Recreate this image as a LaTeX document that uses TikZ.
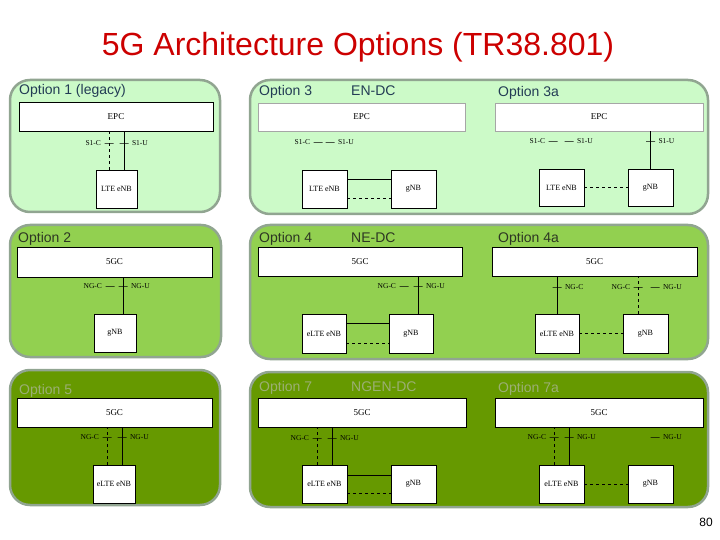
\documentclass[tikz,border=0pt]{standalone}
\usepackage{fontspec}
\setmainfont{Liberation Serif}
\setsansfont{Liberation Sans}
\usetikzlibrary{positioning}
\definecolor{rowone}{RGB}{204,250,200}
\definecolor{rowtwo}{RGB}{146,208,80}
\definecolor{rowthree}{RGB}{102,153,0}
\definecolor{panelrim}{RGB}{145,165,145}
\definecolor{titlered}{RGB}{204,0,0}
\definecolor{optone}{RGB}{35,60,85}
\definecolor{opttwo}{RGB}{45,55,35}
\definecolor{optthree}{RGB}{155,175,115}
\tikzset{
    panel/.style = {rectangle,
                    rounded corners=20pt,
                    draw=panelrim,
                    line width=2.5pt},
    core/.style =  {rectangle,
                    fill=white,
                    draw=black,
                    text=black,
                    line width=0.6pt,
                    inner sep=0pt,
                    minimum height=29pt,
                    font=\fontsize{9}{9}\selectfont},
    ran/.style =   {rectangle,
                    fill=white,
                    draw=black,
                    text=black,
                    line width=0.6pt,
                    inner sep=0pt,
                    minimum width=44pt,
                    minimum height=38pt,
                    font=\fontsize{8}{8}\selectfont},
    tick/.style =  {rectangle,
                    solid,
                    draw=black,
                    line width=0.6pt,
                    inner sep=0pt,
                    minimum width=9pt,
                    minimum height=0pt},
    iface/.style = {text=black,
                    inner sep=0pt,
                    font=\fontsize{7.5}{7.5}\selectfont},
    opt/.style =   {anchor=base west,
                    inner sep=0pt,
                    font=\sffamily\fontsize{14}{14}\selectfont},
    -,
    line width=0.6pt}

\begin{document}
\begin{tikzpicture}[x=1pt,y=-1pt]
    \useasboundingbox (0,0) rectangle (720,540);
    \node[text=titlered, font=\sffamily\fontsize{32}{32}\selectfont] (title) at (358,47) {5G Architecture Options (TR38.801)};
    \node[font=\sffamily\fontsize{12}{12}\selectfont] (pageno) at (706,522) {80};

    % backgrounds
    \draw[panel, fill=rowone]   (10,80)   rectangle (220,212);
    \draw[panel, fill=rowone]   (250,80)  rectangle (708,214);
    \draw[panel, fill=rowtwo]   (10,225)  rectangle (221,357);
    \draw[panel, fill=rowtwo]   (250,225) rectangle (708,359);
    \draw[panel, fill=rowthree] (10,370)  rectangle (220,505);
    \draw[panel, fill=rowthree] (250,372) rectangle (708,507);

    \node[opt, text=optone]   (o1)  at (19,95)   {Option 1 (legacy)};
    \node[opt, text=optone]   (o3)  at (259,96)  {Option 3};
    \node[opt, text=optone]   (o3n) at (351,96)  {EN-DC};
    \node[opt, text=optone]   (o3a) at (498,97)  {Option 3a};
    \node[opt, text=opttwo]   (o2)  at (18,243)  {Option 2};
    \node[opt, text=opttwo]   (o4)  at (259,242) {Option 4};
    \node[opt, text=opttwo]   (o4n) at (351,242) {NE-DC};
    \node[opt, text=opttwo]   (o4a) at (498,243) {Option 4a};
    \node[opt, text=optthree] (o5)  at (19,394)  {Option 5};
    \node[opt, text=optthree] (o7)  at (259,391) {Option 7};
    \node[opt, text=optthree] (o7n) at (351,391) {NGEN-DC};
    \node[opt, text=optthree] (o7a) at (498,392) {Option 7a};

    % option 1
    \node[core] (epc1) [minimum width=194pt] at (116,116.5) {EPC};
    \node[ran]  (lte1) [minimum width=41pt]  at (116.5,189) {LTE eNB};
    \coordinate (l1c) at ([xshift=-7.5pt]lte1.north);
    \coordinate (l1u) at ([xshift=7.5pt]lte1.north);
    \draw[dashed] (l1c) -- (l1c |- epc1.south);
    \draw         (l1u) -- (l1u |- epc1.south);
    \node[tick]  (k1c) at (109,143) {};
    \node[tick]  (k1u) at (124,143) {};
    \node[iface] (s1c) [left=3pt of k1c]  {S1-C};
    \node[iface] (s1u) [right=3pt of k1u] {S1-U};

    % option 3
    \node[core, draw=black!35] (epc3) [minimum width=207pt, minimum height=28pt] at (361.5,117) {EPC};
    \node[ran] (lte3) [minimum width=45pt] at (324.5,189) {LTE eNB};
    \node[ran] (gnb3) [minimum width=45pt, node distance=89pt, right of=lte3] {gNB};
    \draw         ([yshift=10pt]lte3.east) -- ([yshift=10pt]gnb3.west);
    \draw[dashed] ([yshift=-9pt]lte3.east) -- ([yshift=-9pt]gnb3.west);
    \node[tick]  (k3c) at (318,142) {};
    \node[tick]  (k3u) at (330,142) {};
    \node[iface] (s3c) [left=3pt of k3c]  {S1-C};
    \node[iface] (s3u) [right=3pt of k3u] {S1-U};

    % option 3a
    \node[core, draw=black!35] (epc3a) [minimum width=208pt, minimum height=28pt] at (599,117) {EPC};
    \node[ran] (lte3a) [minimum width=45pt, minimum height=37pt] at (561.5,187.5) {LTE eNB};
    \node[ran] (gnb3a) [minimum width=45pt, minimum height=37pt, node distance=89pt, right of=lte3a] {gNB};
    \draw[dashed] (lte3a) -- (gnb3a);
    \draw         (gnb3a) -- (gnb3a |- epc3a.south);
    \node[tick]  (k3ac) at (553,141) {};
    \node[tick]  (k3au) at (569,141) {};
    \node[tick]  (k3ag) at (650.5,141) {};
    \node[iface] (s3ac) [left=3pt of k3ac]  {S1-C};
    \node[iface] (s3au) [right=3pt of k3au] {S1-U};
    \node[iface] (s3ag) [right=3pt of k3ag] {S1-U};

    % option 2
    \node[core] (c2)   [minimum width=195pt, minimum height=30pt] at (114.5,262) {5GC};
    \node[ran]  (gnb2) [minimum width=42pt] at (115,333) {gNB};
    \coordinate (g2u) at ([xshift=8pt]gnb2.north);
    \draw (g2u) -- (g2u |- c2.south);
    \node[tick]  (k2c) at (110,286) {};
    \node[tick]  (k2u) at (123,286) {};
    \node[iface] (s2c) [left=3pt of k2c]  {NG-C};
    \node[iface] (s2u) [right=3pt of k2u] {NG-U};

    % option 4
    \node[core] (c4)    [minimum width=204pt] at (360,261.5) {5GC};
    \node[ran]  (elte4) [minimum height=39pt] at (324,333.5) {eLTE eNB};
    \node[ran]  (gnb4)  [minimum height=39pt, node distance=87pt, right of=elte4] {gNB};
    \draw         ([yshift=10.5pt]elte4.east) -- ([yshift=10.5pt]gnb4.west);
    \draw[dashed] ([yshift=-9.5pt]elte4.east) -- ([yshift=-9.5pt]gnb4.west);
    \coordinate (g4u) at ([xshift=7pt]gnb4.north);
    \draw (g4u) -- (g4u |- c4.south);
    \node[tick]  (k4c) at (404,286) {};
    \node[tick]  (k4u) at (418,286) {};
    \node[iface] (s4c) [left=3pt of k4c]  {NG-C};
    \node[iface] (s4u) [right=3pt of k4u] {NG-U};

    % option 4a
    \node[core] (c4a)    [minimum width=205pt] at (594.5,261.5) {5GC};
    \node[ran]  (elte4a) [minimum height=39pt] at (557,333.5) {eLTE eNB};
    \node[ran]  (gnb4a)  [minimum width=45pt, minimum height=39pt, node distance=88.5pt, right of=elte4a] {gNB};
    \draw[dashed] (elte4a) -- (gnb4a);
    \draw         (elte4a) -- (elte4a |- c4a.south);
    \coordinate (g4ac) at ([xshift=-7.5pt]gnb4a.north);
    \draw[dashed] (g4ac) -- (g4ac |- c4a.south);
    \node[tick]  (k4ae) at (557,287) {};
    \node[tick]  (k4ac) at (638,287) {};
    \node[tick]  (k4au) at (655,287) {};
    \node[iface] (s4ae) [right=3pt of k4ae] {NG-C};
    \node[iface] (s4ac) [left=3pt of k4ac]  {NG-C};
    \node[iface] (s4au) [right=3pt of k4au] {NG-U};

    % option 5
    \node[core] (c5)    [minimum width=195pt] at (114.5,412.5) {5GC};
    \node[ran]  (elte5) [minimum width=42pt]  at (114,484) {eLTE eNB};
    \coordinate (e5c) at ([xshift=-7pt]elte5.north);
    \coordinate (e5u) at ([xshift=8pt]elte5.north);
    \draw[dashed] (e5c) -- (e5c |- c5.south);
    \draw         (e5u) -- (e5u |- c5.south);
    \node[tick]  (k5c) at (107,437) {};
    \node[tick]  (k5u) at (122,437) {};
    \node[iface] (s5c) [left=3pt of k5c]  {NG-C};
    \node[iface] (s5u) [right=3pt of k5u] {NG-U};

    % option 7
    \node[core] (c7)    [minimum width=208pt] at (362,412.5) {5GC};
    \node[ran]  (elte7) [minimum width=45pt]  at (324.5,484) {eLTE eNB};
    \node[ran]  (gnb7)  [minimum width=45pt, node distance=89pt, right of=elte7] {gNB};
    \draw         ([yshift=9pt]elte7.east) -- ([yshift=9pt]gnb7.west);
    \draw[dashed] ([yshift=-9pt]elte7.east) -- ([yshift=-9pt]gnb7.west);
    \coordinate (e7c) at ([xshift=-7.5pt]elte7.north);
    \coordinate (e7u) at ([xshift=7.5pt]elte7.north);
    \draw[dashed] (e7c) -- (e7c |- c7.south);
    \draw         (e7u) -- (e7u |- c7.south);
    \node[tick]  (k7c) at (317,438) {};
    \node[tick]  (k7u) at (332,438) {};
    \node[iface] (s7c) [left=3pt of k7c]  {NG-C};
    \node[iface] (s7u) [right=3pt of k7u] {NG-U};

    % option 7a
    \node[core] (c7a)    [minimum width=208pt] at (599,412.5) {5GC};
    \node[ran]  (elte7a) [minimum width=45pt]  at (561.5,484) {eLTE eNB};
    \node[ran]  (gnb7a)  [minimum width=45pt, node distance=89pt, right of=elte7a] {gNB};
    \draw[dashed] (elte7a) -- (gnb7a);
    \coordinate (e7ac) at ([xshift=-7.5pt]elte7a.north);
    \coordinate (e7au) at ([xshift=7.5pt]elte7a.north);
    \draw[dashed] (e7ac) -- (e7ac |- c7a.south);
    \draw         (e7au) -- (e7au |- c7a.south);
    \node[tick]  (k7ac) at (554,437) {};
    \node[tick]  (k7au) at (569,437) {};
    \node[tick]  (k7ag) at (655,437) {};
    \node[iface] (s7ac) [left=3pt of k7ac]  {NG-C};
    \node[iface] (s7au) [right=3pt of k7au] {NG-U};
    \node[iface] (s7ag) [right=3pt of k7ag] {NG-U};
\end{tikzpicture}
\end{document}
